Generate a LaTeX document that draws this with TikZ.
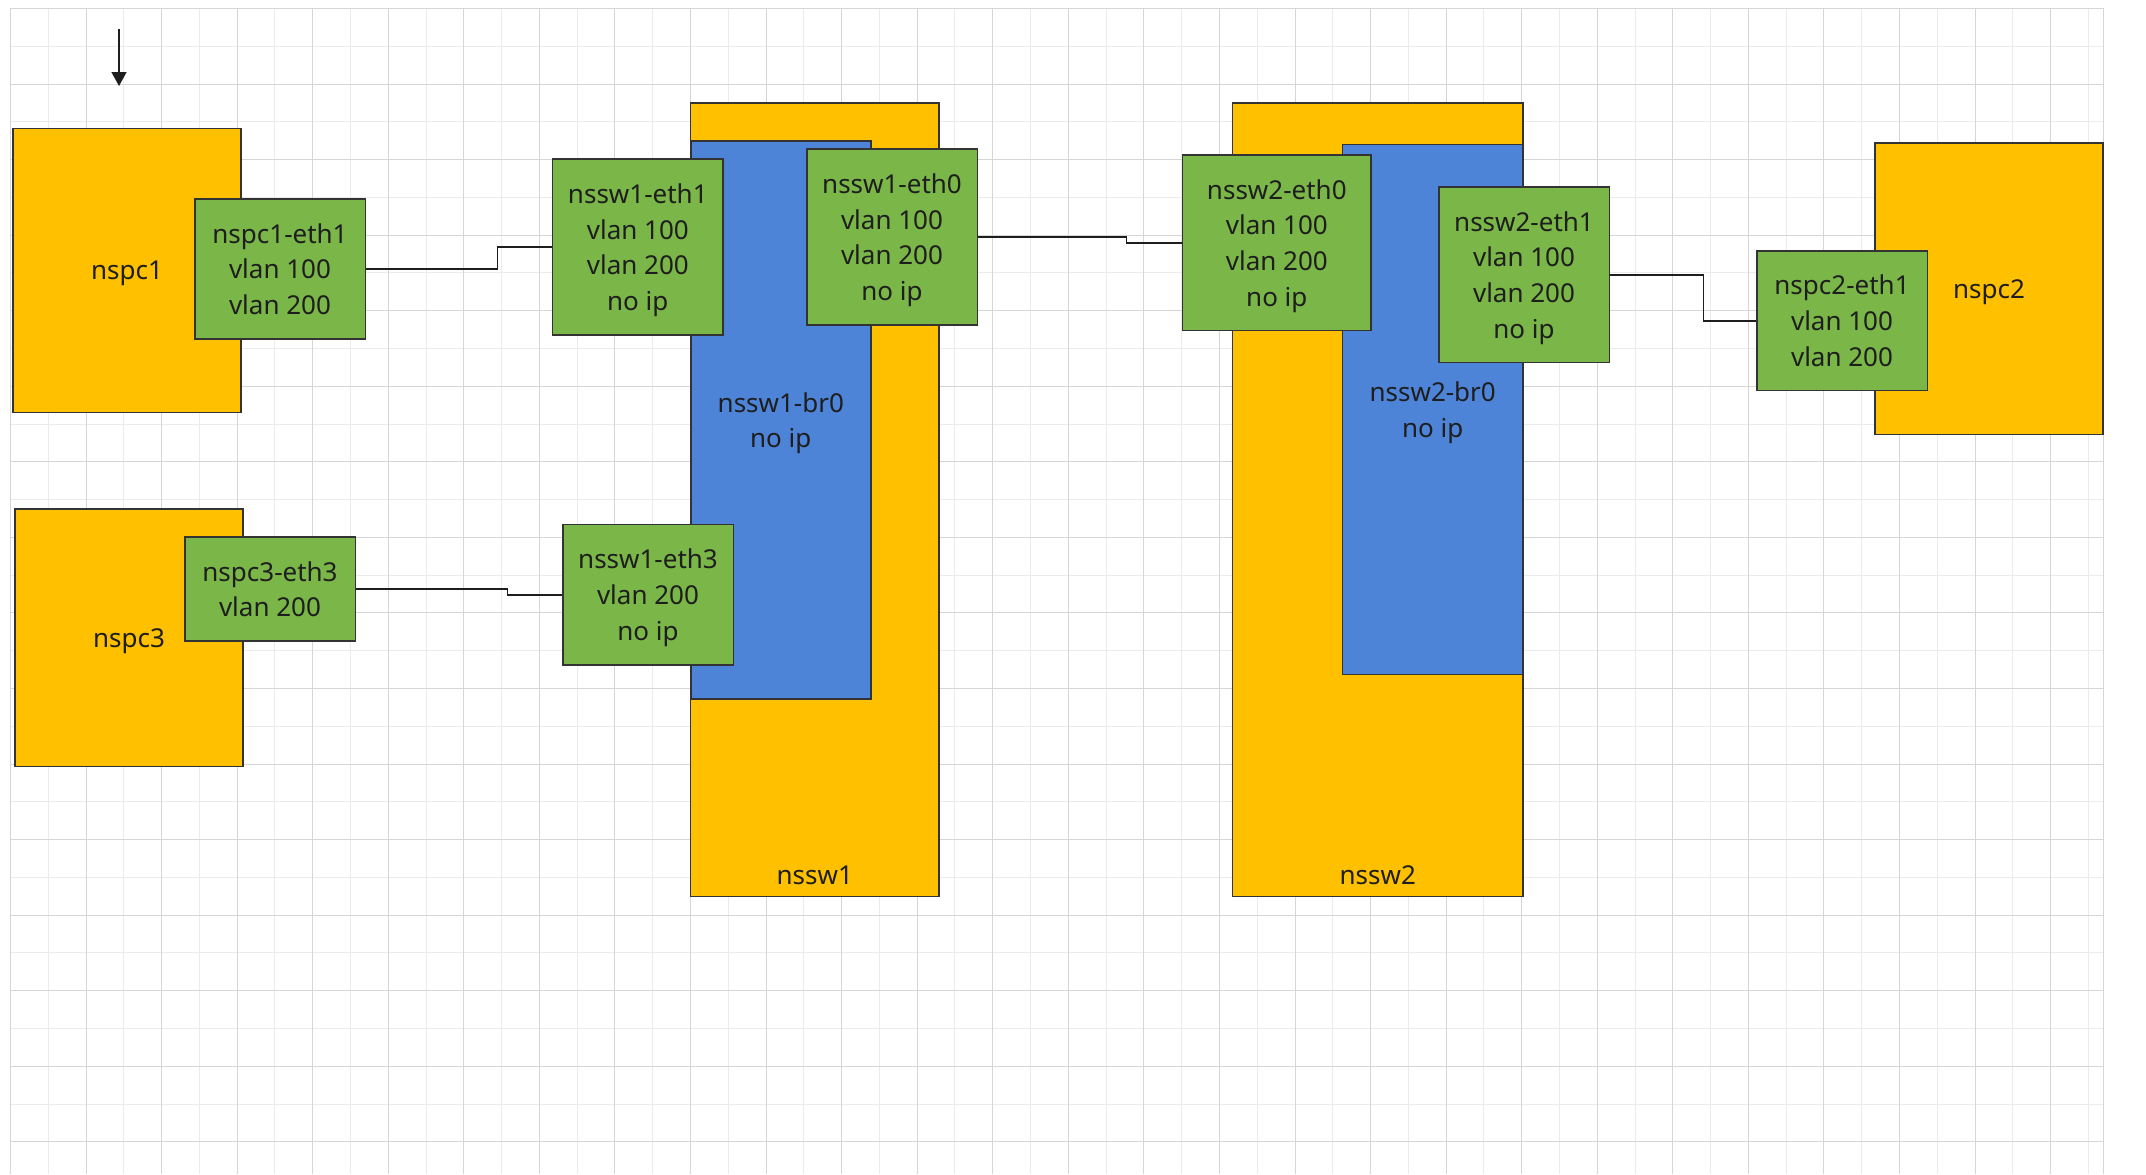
\documentclass[tikz,border=0pt]{standalone}
\usepackage{fontspec}
\setmainfont{Noto Sans}
\usetikzlibrary{arrows.meta}
\definecolor{hostyellow}{HTML}{FFC000}
\definecolor{portgreen}{HTML}{7AB648}
\definecolor{bridgeblue}{HTML}{4D84D8}
\definecolor{edgegray}{HTML}{333333}
\definecolor{inkgray}{HTML}{1E1E1E}
\definecolor{gridmajor}{HTML}{D6D6D6}
\definecolor{gridminor}{HTML}{EBEBEB}
\tikzset{
  box/.style={draw=edgegray, line width=0.7pt, inner sep=0pt, text=inkgray, text depth=0pt,
    font=\fontsize{13}{17.85}\selectfont},
  host/.style={box, fill=hostyellow, minimum width=114.15pt},
  bridge/.style={box, fill=bridgeblue, align=center, minimum width=90pt},
  port/.style={box, fill=portgreen, align=center, minimum width=85.2pt},
  link/.style={line width=0.7pt, inkgray},
  gridline/.style={line width=0.5pt},
}

\begin{document}
\begin{tikzpicture}[x=0.5pt, y=-0.5pt]
\useasboundingbox (0,0) rectangle (2146,1174);
% grid
\foreach \i in {1,3,...,55} \draw[gridline, gridminor] ({round(10+37.78*\i)+0.5},8) -- ({round(10+37.78*\i)+0.5},1174);
\foreach \j in {1,3,...,29} \draw[gridline, gridminor] (10,{round(8+37.78*\j)+0.5}) -- (2104,{round(8+37.78*\j)+0.5});
\foreach \i in {0,2,...,54} \draw[gridline, gridmajor] ({round(10+37.78*\i)+0.5},8) -- ({round(10+37.78*\i)+0.5},1174);
\foreach \j in {0,2,...,30} \draw[gridline, gridmajor] (10,{round(8+37.78*\j)+0.5}) -- (2104,{round(8+37.78*\j)+0.5});
\draw[gridline, gridmajor] (2103.5,8) -- (2103.5,1174);
% arrow
\coordinate (arrowtop) at (119,29);
\coordinate (arrowtip) at (119,86);
\draw[link, -{Triangle[length=7pt, width=7.5pt]}] (arrowtop) -- (arrowtip);
% switches
\node[host, minimum width=124.15pt, minimum height=396.85pt,
  label={[above=3pt, font=\fontsize{13}{17.85}\selectfont, text=inkgray]south:nssw1}] (nssw1) at (814.8,499.8) {};
\node[bridge, minimum height=279pt] (nssw1br0) at (780.8,420) {nssw1-br0\\no ip};
\node[host, minimum width=145.15pt, minimum height=396.85pt,
  label={[above=3pt, font=\fontsize{13}{17.85}\selectfont, text=inkgray]south:nssw2}] (nssw2) at (1377.8,499.8) {};
\node[bridge, minimum height=265pt] (nssw2br0) at (1432.7,409.7) {nssw2-br0\\no ip};
% hosts
\node[host, minimum height=142pt] (nspc1) at (127,270.7) {nspc1};
\node[host, minimum width=113.85pt, minimum height=128.85pt] (nspc3) at (129,637.8) {nspc3};
\node[host, minimum height=145.65pt] (nspc2) at (1989,288.7) {nspc2};
% ports
\node[port, minimum height=70pt] (nspc1eth1) at (280,269) {nspc1-eth1\\vlan 100\\vlan 200};
\node[port, minimum height=52pt] (nspc3eth3) at (270,589) {nspc3-eth3\\vlan 200};
\node[port, minimum height=88pt] (nssw1eth1) at (637.8,247) {nssw1-eth1\\vlan 100\\vlan 200\\no ip};
\node[port, minimum height=88pt] (nssw1eth0) at (892,237) {nssw1-eth0\\vlan 100\\vlan 200\\no ip};
\node[port, minimum height=70.15pt] (nssw1eth3) at (648,594.8) {nssw1-eth3\\vlan 200\\no ip};
\node[port, minimum width=94.15pt, minimum height=87.85pt] (nssw2eth0) at (1276.8,242.8) {nssw2-eth0\\vlan 100\\vlan 200\\no ip};
\node[port, minimum height=87.85pt] (nssw2eth1) at (1524,274.8) {nssw2-eth1\\vlan 100\\vlan 200\\no ip};
\node[port, minimum height=69.85pt] (nspc2eth1) at (1842,320.8) {nspc2-eth1\\vlan 100\\vlan 200};
% links
\draw[link] (nspc1eth1.east) -- ++(131.7,0) |- (nssw1eth1.west);
\draw[link] (nssw1eth0.east) -- ++(148.7,0) |- (nssw2eth0.west);
\draw[link] (nssw2eth1.east) -- ++(93.4,0) |- (nspc2eth1.west);
\draw[link] (nspc3eth3.east) -- ++(151.6,0) |- (nssw1eth3.west);
\end{tikzpicture}
\end{document}
